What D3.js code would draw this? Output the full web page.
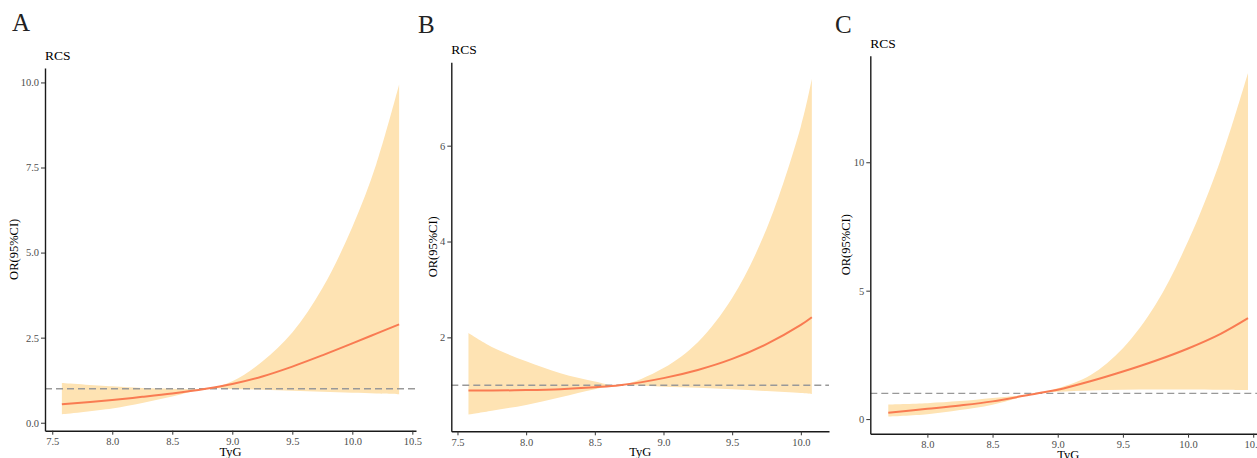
<!DOCTYPE html>
<html>
<head>
<meta charset="utf-8">
<script src="https://cdn.jsdelivr.net/npm/d3@7"></script>
<style>
  body { margin: 0; background: #fff; }
  svg { display: block; font-family: "Liberation Serif", "DejaVu Serif", serif; }
</style>
</head>
<body>
<div class="body"></div>
<script>
// panel A
const tygA = [7.58, 8.0, 8.25, 8.5, 8.78, 9.0, 9.25, 9.5, 9.75, 10.0, 10.2, 10.39];
const orA = [0.54, 0.67, 0.76, 0.86, 1.0, 1.14, 1.36, 1.65, 1.98, 2.33, 2.62, 2.89];
const lowA = [0.25, 0.42, 0.58, 0.77, 1.0, 0.99, 0.97, 0.94, 0.91, 0.88, 0.86, 0.84];
const upA = [1.17, 1.07, 1.02, 1.0, 1.0, 1.22, 1.8, 2.65, 3.95, 5.75, 7.6, 9.94];

// panel B
const tygB = [7.58, 7.75, 8.0, 8.25, 8.5, 8.68, 9.0, 9.25, 9.5, 9.75, 10.0, 10.08];
const orB = [0.89, 0.89, 0.9, 0.92, 0.96, 1.0, 1.15, 1.32, 1.55, 1.86, 2.26, 2.42];
const lowB = [0.39, 0.47, 0.59, 0.75, 0.92, 1.0, 0.97, 0.95, 0.92, 0.88, 0.84, 0.82];
const upB = [2.09, 1.8, 1.5, 1.25, 1.08, 1.0, 1.36, 1.9, 2.82, 4.26, 6.4, 7.39];

// panel C
const tygC = [7.7, 8.0, 8.25, 8.5, 8.84, 9.0, 9.25, 9.5, 9.75, 10.0, 10.25, 10.46];
const orC = [0.25, 0.4, 0.53, 0.69, 1.0, 1.14, 1.47, 1.85, 2.27, 2.75, 3.32, 3.93];
const lowC = [0.1, 0.19, 0.35, 0.56, 1.0, 1.06, 1.11, 1.14, 1.15, 1.15, 1.14, 1.13];
const upC = [0.57, 0.62, 0.7, 0.82, 1.0, 1.2, 1.71, 2.76, 4.45, 6.92, 10.1, 13.48];

const xTicks = [7.5, 8.0, 8.5, 9.0, 9.5, 10.0, 10.5];
const yTicksA = [0, 2.5, 5, 7.5, 10];
const yTicksB = [2, 4, 6];
const yTicksC = [0, 5, 10];

const svg = d3.select(".body").append("svg").attr("width", 1257).attr("height", 458);

const panels = [
  { letter: "A", x: tygA, or: orA, lo: lowA, hi: upA, yTicks: yTicksA, yFmt: ".1f",
    left: 45, right: 416, top: 68, bottom: 430.7, letterX: 12, letterY: 31, yTitleX: 14 },
  { letter: "B", x: tygB, or: orB, lo: lowB, hi: upB, yTicks: yTicksB, yFmt: "d",
    left: 451.3, right: 829, top: 62.3, bottom: 431.3, letterX: 418, letterY: 32.5, yTitleX: 433 },
  { letter: "C", x: tygC, or: orC, lo: lowC, hi: upC, yTicks: yTicksC, yFmt: "d",
    left: 870.3, right: 1266, top: 55.7, bottom: 433.7, letterX: 835, letterY: 33, yTitleX: 846 },
];

// ggplot style 5% expansion
function expand(vals) {
  const [a, b] = d3.extent(vals);
  const pad = (b - a) * 0.05;
  return [a - pad, b + pad];
}

panels.forEach(function (p) {
  const rows = p.x.map((v, i) => ({ x: v, or: p.or[i], lo: p.lo[i], hi: p.hi[i] }));

  const x = d3.scaleLinear().domain(expand(p.x)).range([p.left, p.right]);
  const y = d3.scaleLinear().domain(expand(p.lo.concat(p.hi))).range([p.bottom, p.top]);

  const g = svg.append("g");

  g.append("path")
    .datum(rows)
    .attr("fill", "#FEE3B3")
    .attr("d", d3.area().curve(d3.curveCatmullRom).x(d => x(d.x)).y0(d => y(d.lo)).y1(d => y(d.hi)));

  g.append("line")
    .attr("x1", p.left)
    .attr("x2", p.right)
    .attr("y1", y(1))
    .attr("y2", y(1))
    .attr("stroke", "#999")
    .attr("stroke-width", 1.4)
    .attr("stroke-dasharray", "7,4");

  g.append("path")
    .datum(rows)
    .attr("fill", "none")
    .attr("stroke", "#F97B52")
    .attr("stroke-width", 2)
    .attr("d", d3.line().curve(d3.curveCatmullRom).x(d => x(d.x)).y(d => y(d.or)));

  const xIn = xTicks.filter(t => t >= x.domain()[0] && t <= x.domain()[1]);
  const yIn = p.yTicks.filter(t => t >= y.domain()[0] && t <= y.domain()[1]);

  const xAxis = g.append("g")
    .attr("transform", `translate(0,${p.bottom})`)
    .call(d3.axisBottom(x).tickValues(xIn).tickFormat(d3.format(".1f")).tickSize(4).tickSizeOuter(0).tickPadding(3));
  const yAxis = g.append("g")
    .attr("transform", `translate(${p.left},0)`)
    .call(d3.axisLeft(y).tickValues(yIn).tickFormat(d3.format(p.yFmt)).tickSize(4).tickSizeOuter(0).tickPadding(2));

  [xAxis, yAxis].forEach(function (a) {
    a.select(".domain").attr("stroke", "#1a1a1a").attr("stroke-width", 1.4);
    a.selectAll(".tick line").attr("stroke", "#333").attr("stroke-width", 1);
    a.selectAll(".tick text")
      .attr("fill", "#4d4d4d")
      .style("font-size", "10.5px")
      .style("font-family", "Liberation Serif, serif");
  });

  g.append("text")
    .attr("x", p.letterX)
    .attr("y", p.letterY)
    .style("font-size", "25px")
    .attr("fill", "#222")
    .text(p.letter);

  g.append("text")
    .attr("x", p.left)
    .attr("y", p.top - 8)
    .style("font-size", "13.5px")
    .attr("fill", "#000")
    .text("RCS");

  g.append("text")
    .attr("x", (p.left + p.right) / 2)
    .attr("y", p.bottom + 25)
    .attr("text-anchor", "middle")
    .style("font-size", "12.5px")
    .text("TyG");

  g.append("text")
    .attr("transform", `translate(${p.yTitleX + 4},${(p.top + p.bottom) / 2}) rotate(-90)`)
    .attr("text-anchor", "middle")
    .style("font-size", "12.5px")
    .text("OR(95%CI)");
});
</script>
</body>
</html>
